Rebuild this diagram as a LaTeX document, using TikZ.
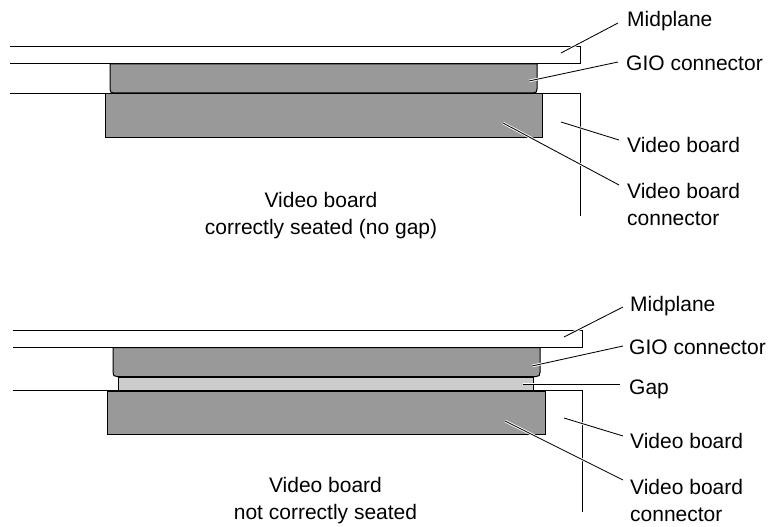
\documentclass[tikz,border=0pt]{standalone}
\usepackage{fontspec}
\setmainfont{Liberation Sans}
\definecolor{partgray}{HTML}{999999}
\definecolor{gapgray}{HTML}{CCCCCC}
\tikzset{
  x=1pt,y=-1pt,
  edge/.style={draw=black,line width=1pt},
  part/.style={edge,fill=partgray},
  gapfill/.style={edge,fill=gapgray},
  leader/.style={preaction={draw=white,line width=2.6pt},draw=black,line width=0.85pt},
  lbl/.style={anchor=west,inner sep=0pt,font=\fontsize{21}{27}\selectfont,text=black},
  captext/.style={anchor=center,inner sep=0pt,align=center,font=\fontsize{21}{27}\selectfont,text=black}
}
\begin{document}
\begin{tikzpicture}
\useasboundingbox (0,0) rectangle (772,527);
% --- upper view
\draw[edge] (10,46.5) -- (580,46.5) -- (580,63.5) -- (10,63.5);
\draw[part] (110,64) -- (110,89) .. controls (110,92) and (111,93) .. (114,93) -- (533,93) .. controls (536,93) and (537,92) .. (537,89) -- (537,64) -- cycle;
\draw[part] (105,94) rectangle (542.7,137.5);
\draw[edge] (10,94) -- (580,94) -- (580,216);
\coordinate (a1) at (561,53);
\coordinate (a2) at (529,81);
\coordinate (a3) at (561,122);
\coordinate (a4) at (503,123);
\node[lbl] (aMid) at (627,21.5) {Midplane};
\node[lbl] (aGio) at (626,63.5) {GIO connector};
\node[lbl] (aVb) at (627,144.5) {Video board};
\node[lbl,align=left] (aVc) at (627,204) {Video board\\connector};
\draw[leader] (a1) -- ([shift={(-9,1.5)}]aMid.west);
\draw[leader] (a2) -- ([shift={(-8,-1.5)}]aGio.west);
\draw[leader] (a3) -- ([shift={(-8,-4.5)}]aVb.west);
\draw[leader] (a4) -- ([shift={(-8,-19)}]aVc.west);
\node[captext] (aCap) at (321,216) {Video board\\correctly seated (no gap)};
% --- lower view
\draw[edge] (12.7,330.7) -- (582.3,330.7) -- (582.3,347) -- (12.7,347);
\draw[part] (113,347.5) -- (113,372.5) .. controls (113,375.5) and (114,376.5) .. (117,376.5) -- (536,376.5) .. controls (539,376.5) and (540,375.5) .. (540,372.5) -- (540,347.5) -- cycle;
\draw[gapfill] (118.3,377) rectangle (533,390.7);
\draw[part] (107.5,391) rectangle (545.2,434);
\draw[edge] (12.7,390.7) -- (582.3,390.7) -- (582.3,511.7);
\coordinate (b1) at (564,337);
\coordinate (b2) at (532,366);
\coordinate (b3) at (523,384);
\coordinate (b4) at (564,418);
\coordinate (b5) at (505,421);
\node[lbl] (bMid) at (630,306) {Midplane};
\node[lbl] (bGio) at (629,347.5) {GIO connector};
\node[lbl] (bGap) at (629,389.5) {Gap};
\node[lbl] (bVb) at (630,441) {Video board};
\node[lbl,align=left] (bVc) at (630,500.5) {Video board\\connector};
\draw[leader] (b1) -- ([shift={(-7,1)}]bMid.west);
\draw[leader] (b2) -- ([shift={(-6,-1.5)}]bGio.west);
\draw[leader] (b3) -- ([shift={(-9,-5.5)}]bGap.west);
\draw[leader] (b4) -- ([shift={(-7,-5)}]bVb.west);
\draw[leader] (b5) -- ([shift={(-7,-20.5)}]bVc.west);
\node[captext] (bCap) at (325.5,500.5) {Video board\\not correctly seated};
\end{tikzpicture}
\end{document}
